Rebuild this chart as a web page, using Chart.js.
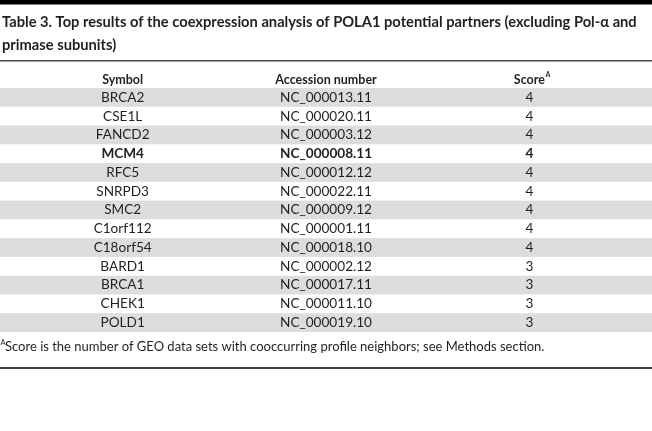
<!DOCTYPE html>
<html>
<head>
<meta charset="utf-8">
<script src="https://cdn.jsdelivr.net/npm/chart.js@4.4.1/dist/chart.umd.min.js"></script>
<style>
  html, body { margin: 0; padding: 0; background: #fff; }
</style>
</head>
<body>
<canvas id="tableChart" width="652" height="431"></canvas>
<script>
// table content
const columns = ["Symbol", "Accession number", "Score"];
const symbols = ["BRCA2", "CSE1L", "FANCD2", "MCM4", "RFC5", "SNRPD3", "SMC2", "C1orf112", "C18orf54", "BARD1", "BRCA1", "CHEK1", "POLD1"];
const accessions = ["NC_000013.11", "NC_000020.11", "NC_000003.12", "NC_000008.11", "NC_000012.12", "NC_000022.11", "NC_000009.12", "NC_000001.11", "NC_000018.10", "NC_000002.12", "NC_000017.11", "NC_000011.10", "NC_000019.10"];
const scores = [4, 4, 4, 4, 4, 4, 4, 4, 4, 3, 3, 3, 3];
const boldRows = ["MCM4"];

const titleLines = [
  "Table 3. Top results of the coexpression analysis of POLA1 potential partners (excluding Pol-\u03b1 and",
  "primase subunits)"
];
const footnote = "Score is the number of GEO data sets with cooccurring profile neighbors; see Methods section.";

const FONT = "Lato, 'Liberation Sans', sans-serif";
const INK = "#231f20";
const STRIPE = "#dcdddf";

const tablePlugin = {
  id: "tableCells",
  beforeDraw(chart) {
    const ctx = chart.ctx;
    const y = chart.scales.y;
    ctx.save();
    ctx.fillStyle = "#fff";
    ctx.fillRect(0, 0, chart.width, chart.height);
    // striped rows
    ctx.fillStyle = STRIPE;
    symbols.forEach((s, i) => {
      if (i % 2 !== 0) return;
      const y0 = y.getPixelForValue(i - 0.5);
      const y1 = y.getPixelForValue(i + 0.5);
      ctx.fillRect(0, y0, chart.width, y1 - y0);
    });
    ctx.restore();
  },
  afterDraw(chart) {
    const ctx = chart.ctx;
    const x = chart.scales.x;
    const y = chart.scales.y;
    ctx.save();

    // top black band and rules
    ctx.fillStyle = "#000";
    ctx.fillRect(0, 0, chart.width, 4.5);
    ctx.fillStyle = "#444";
    ctx.fillRect(0, 60, chart.width, 1.5);
    ctx.fillStyle = "#3c3c3c";
    ctx.fillRect(0, 367, chart.width, 2);

    // title
    ctx.fillStyle = INK;
    ctx.textAlign = "left";
    ctx.textBaseline = "alphabetic";
    ctx.font = "bold 14.7px " + FONT;
    ctx.fillText(titleLines[0], 2, 26.5);
    ctx.fillText(titleLines[1], 2, 50);

    // cells
    ctx.textAlign = "center";
    ctx.textBaseline = "middle";
    symbols.forEach((s, i) => {
      const py = y.getPixelForValue(i);
      ctx.font = (boldRows.includes(s) ? "bold " : "") + "13.6px " + FONT;
      ctx.fillText(s, x.getPixelForValue(0), py);
      ctx.fillText(accessions[i], x.getPixelForValue(1), py);
      ctx.fillText(String(scores[i]), x.getPixelForValue(2), py);
    });

    // superscript on the Score header
    const scoreW = (() => { ctx.font = "bold 12.5px " + FONT; return ctx.measureText(columns[2]).width; })();
    ctx.font = "bold 7px " + FONT;
    ctx.textAlign = "left";
    ctx.fillText("A", x.getPixelForValue(2) + scoreW / 2 + 0.5, 75);

    // footnote
    ctx.font = "7.5px " + FONT;
    ctx.fillText("A", 0.5, 343);
    ctx.font = "13px " + FONT;
    ctx.textBaseline = "alphabetic";
    ctx.fillText(footnote, 5, 350.5);
    ctx.restore();
  }
};

new Chart(document.getElementById("tableChart"), {
  type: "bar",
  data: { labels: symbols, datasets: [] },
  options: {
    responsive: false,
    devicePixelRatio: 1,
    animation: false,
    layout: { padding: { top: 61, left: 21, right: 21, bottom: 99 } },
    plugins: {
      legend: { display: false },
      tooltip: { enabled: false },
      title: { display: false }
    },
    scales: {
      x: {
        type: "category",
        labels: columns,
        position: "top",
        offset: true,
        grid: { display: false, drawTicks: false },
        border: { display: false },
        ticks: {
          color: INK,
          font: { family: FONT, size: 12.5, weight: "bold" },
          padding: 1,
          maxRotation: 0,
          autoSkip: false
        },
        afterFit: (scale) => { scale.height = 27; }
      },
      y: {
        type: "category",
        labels: symbols,
        offset: true,
        display: false
      }
    }
  },
  plugins: [tablePlugin]
});
</script>
</body>
</html>
